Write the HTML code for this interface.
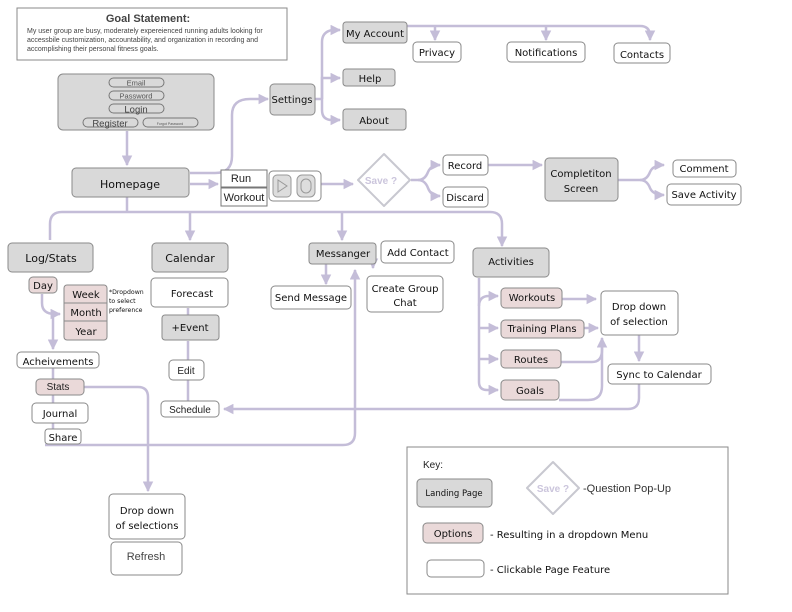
<!DOCTYPE html>
<html><head><meta charset="utf-8"><style>
html,body{margin:0;padding:0;background:#fff;}
svg{display:block;}
.d{font-family:"DejaVu Sans",sans-serif;fill:#111;}
.l{font-family:"Liberation Sans",sans-serif;fill:#222;}
.ln{fill:none;stroke:#c4bdd8;stroke-width:2.5;}
.g{fill:#d9d9d9;stroke:#8a8a8a;stroke-width:1;}
.p{fill:#ead9d9;stroke:#8a8a8a;stroke-width:1;}
.w{fill:#fff;stroke:#8a8a8a;stroke-width:1;}
</style></head><body>
<svg width="792" height="612" viewBox="0 0 792 612" xmlns="http://www.w3.org/2000/svg">
<defs>
<marker id="a" viewBox="0 0 10 10" refX="9" refY="5" markerWidth="4.2" markerHeight="4.2" orient="auto" markerUnits="strokeWidth">
<path d="M0,0 L10,5 L0,10 z" fill="#c4bdd8"/></marker>
</defs>

<!-- goal -->
<rect x="17" y="8" width="270" height="52" fill="#fff" stroke="#8a8a8a"/>
<text x="148" y="22" text-anchor="middle" class="l" font-size="11" font-weight="bold" style="fill:#444">Goal Statement:</text>
<text x="27" y="33" class="l" font-size="7" style="fill:#444">My user group are busy, moderately expereienced running adults looking for</text>
<text x="27" y="42" class="l" font-size="7" style="fill:#444">accessbile customization, accountability, and organization in recording and</text>
<text x="27" y="51" class="l" font-size="7" style="fill:#444">accomplishing their personal fitness goals.</text>

<!-- connectors -->
<g class="ln">
<path d="M127,131 V165" marker-end="url(#a)"/>
<path d="M190,173 H215 Q232,173 232,156 V115 Q232,99 250,99 H268" marker-end="url(#a)"/>
<path d="M190,184 H218" marker-end="url(#a)"/>
<path d="M315,99 H322 M322,99 V42 Q322,32 332,30 H340" marker-end="url(#a)"/>
<path d="M322,99 V78 H340" marker-end="url(#a)"/>
<path d="M322,99 V110 Q322,120 332,120 H340" marker-end="url(#a)"/>
<path d="M407,26 H640 Q650,26 650,36 V40" marker-end="url(#a)"/>
<path d="M435,26 V40" marker-end="url(#a)"/>
<path d="M546,26 V40" marker-end="url(#a)"/>
<path d="M321,184 H353" marker-end="url(#a)"/>
<path d="M411,180 H418 Q425,180 428,172 Q431,165 440,165" marker-end="url(#a)"/>
<path d="M418,180 Q425,180 428,188 Q431,196 440,196" marker-end="url(#a)"/>
<path d="M488,165 H542" marker-end="url(#a)"/>
<path d="M618,180 H640 Q647,180 650,172 Q653,165 664,165" marker-end="url(#a)"/>
<path d="M640,180 Q647,180 650,188 Q653,195 664,195" marker-end="url(#a)"/>
<path d="M127,197 V212"/>
<path d="M50,240 V224 Q50,212 62,212 H490 Q502,212 502,224 V246" marker-end="url(#a)"/>
<path d="M190,212 V240" marker-end="url(#a)"/>
<path d="M342,212 V240" marker-end="url(#a)"/>
<path d="M42,294 V303 Q42,314 55,314 H60" marker-end="url(#a)"/>
<path d="M53,314 V349" marker-end="url(#a)"/>
<path d="M188,308 V315 M188,341 V360 M188,380 V401"/>
<path d="M53,368 V379 M53,395 V403 M53,423 V429"/>
<path d="M84,387 H138 Q148,387 148,397 V491" marker-end="url(#a)"/>
<path d="M45,445 H343 Q355,445 355,433 V270" marker-end="url(#a)"/>
<path d="M326,264 V284" marker-end="url(#a)"/>
<path d="M373,262 L373,268" marker-end="url(#a)"/>
<path d="M479,278 V382 Q479,390 487,390 H498" marker-end="url(#a)"/>
<path d="M479,306 Q479,296 489,296 H498" marker-end="url(#a)"/>
<path d="M479,328 H498" marker-end="url(#a)"/>
<path d="M479,359 H498" marker-end="url(#a)"/>
<path d="M562,299 H596" marker-end="url(#a)"/>
<path d="M584,328 H598" marker-end="url(#a)"/>
<path d="M561,362 H592 Q602,362 602,350 V338" marker-end="url(#a)"/>
<path d="M559,400 H588 Q602,400 602,386 V345"/>
<path d="M639,335 V361" marker-end="url(#a)"/>
<path d="M639,384 V398 Q639,409 628,409 H224" marker-end="url(#a)"/>
</g>

<!-- login -->
<rect x="58" y="74" width="156" height="56" rx="5" class="g"/>
<g fill="none" stroke="#777">
<rect x="109" y="78" width="55" height="9" rx="4.5"/>
<rect x="109" y="91" width="55" height="9" rx="4.5"/>
<rect x="109" y="104" width="55" height="9" rx="4.5"/>
<rect x="83" y="118" width="55" height="9" rx="4.5"/>
<rect x="143" y="118" width="55" height="9" rx="4.5"/>
</g>
<text x="136" y="85.5" text-anchor="middle" class="l" font-size="7.5" style="fill:#555">Email</text>
<text x="136" y="98.5" text-anchor="middle" class="l" font-size="7.5" style="fill:#555">Password</text>
<text x="136" y="112.5" text-anchor="middle" class="l" font-size="9.5" style="fill:#444">Login</text>
<text x="110" y="126.5" text-anchor="middle" class="l" font-size="9.5" style="fill:#444">Register</text>
<text x="170" y="125" text-anchor="middle" class="l" font-size="3.5" style="fill:#555">Forgot Password</text>

<!-- gray -->
<rect x="72" y="168" width="117" height="29" rx="4" class="g"/>
<text x="130" y="188" text-anchor="middle" class="d" font-size="11">Homepage</text>
<rect x="270" y="84" width="45" height="31" rx="4" class="g"/>
<text x="292" y="103" text-anchor="middle" class="d" font-size="10">Settings</text>
<rect x="343" y="22" width="64" height="21" rx="3" class="g"/>
<text x="375" y="37" text-anchor="middle" class="d" font-size="10">My Account</text>
<rect x="343" y="69" width="52" height="17" rx="3" class="g"/>
<text x="370" y="82" text-anchor="middle" class="d" font-size="10">Help</text>
<rect x="343" y="109" width="63" height="21" rx="3" class="g"/>
<text x="374" y="124" text-anchor="middle" class="d" font-size="10">About</text>
<rect x="545" y="158" width="73" height="43" rx="4" class="g"/>
<text x="581" y="177" text-anchor="middle" class="d" font-size="10">Completiton</text>
<text x="581" y="192" text-anchor="middle" class="d" font-size="10">Screen</text>
<rect x="8" y="243" width="85" height="29" rx="4" class="g"/>
<text x="51" y="262" text-anchor="middle" class="d" font-size="11">Log/Stats</text>
<rect x="152" y="243" width="76" height="29" rx="4" class="g"/>
<text x="190" y="262" text-anchor="middle" class="d" font-size="11">Calendar</text>
<rect x="309" y="243" width="67" height="21" rx="3" class="g"/>
<text x="343" y="257" text-anchor="middle" class="d" font-size="10">Messanger</text>
<rect x="473" y="248" width="76" height="29" rx="4" class="g"/>
<text x="511" y="265" text-anchor="middle" class="d" font-size="10">Activities</text>
<rect x="162" y="315" width="57" height="25" rx="3" class="g"/>
<text x="190" y="331" text-anchor="middle" class="d" font-size="10">+Event</text>

<!-- white -->
<rect x="413" y="42" width="48" height="20" rx="4" class="w"/><text x="437" y="56" text-anchor="middle" class="d" font-size="10">Privacy</text>
<rect x="507" y="42" width="78" height="20" rx="4" class="w"/><text x="546" y="56" text-anchor="middle" class="d" font-size="10">Notifications</text>
<rect x="614" y="43" width="56" height="20" rx="4" class="w"/><text x="642" y="58" text-anchor="middle" class="d" font-size="10">Contacts</text>
<rect x="221" y="170" width="46" height="17" fill="#fff" stroke="#777"/><text x="241" y="182" text-anchor="middle" class="l" font-size="11">Run</text>
<rect x="221" y="188" width="46" height="18" fill="#fff" stroke="#777"/><text x="244" y="201" text-anchor="middle" class="l" font-size="11">Workout</text>
<rect x="269" y="171" width="52" height="30" rx="4" fill="#fff" stroke="#888"/>
<rect x="273" y="175" width="18" height="22" rx="4" fill="#ddd" stroke="#999"/>
<path d="M278,180 L287,186 L278,192 z" fill="none" stroke="#999"/>
<rect x="297" y="175" width="18" height="22" rx="5" fill="#ddd" stroke="#999"/>
<rect x="301" y="179" width="10" height="14" rx="5" fill="none" stroke="#999"/>
<path d="M384,154 L410,180 L384,206 L358,180 z" fill="#fff" stroke="#c8c8d0" stroke-width="2" stroke-linejoin="round"/>
<text x="381" y="184" text-anchor="middle" class="l" font-size="10" font-weight="bold" style="fill:#cbc5dc">Save ?</text>
<rect x="443" y="155" width="45" height="20" rx="4" class="w"/><text x="465" y="169" text-anchor="middle" class="d" font-size="10">Record</text>
<rect x="443" y="187" width="45" height="20" rx="4" class="w"/><text x="465" y="201" text-anchor="middle" class="d" font-size="10">Discard</text>
<rect x="673" y="160" width="63" height="17" rx="4" class="w"/><text x="704" y="172" text-anchor="middle" class="d" font-size="10">Comment</text>
<rect x="667" y="184" width="74" height="21" rx="4" class="w"/><text x="704" y="198" text-anchor="middle" class="d" font-size="10">Save Activity</text>
<rect x="381" y="241" width="73" height="22" rx="4" class="w"/><text x="418" y="256" text-anchor="middle" class="d" font-size="10">Add Contact</text>
<rect x="151" y="278" width="77" height="29" rx="4" class="w"/><text x="192" y="297" text-anchor="middle" class="d" font-size="10">Forecast</text>
<rect x="169" y="360" width="35" height="20" rx="4" class="w"/><text x="186" y="374" text-anchor="middle" class="l" font-size="10">Edit</text>
<rect x="161" y="401" width="58" height="16" rx="4" class="w"/><text x="190" y="413" text-anchor="middle" class="l" font-size="10">Schedule</text>
<rect x="271" y="286" width="80" height="23" rx="4" class="w"/><text x="311" y="301" text-anchor="middle" class="d" font-size="10">Send Message</text>
<rect x="367" y="276" width="76" height="36" rx="4" class="w"/><text x="405" y="292" text-anchor="middle" class="d" font-size="10">Create Group</text><text x="405" y="306" text-anchor="middle" class="d" font-size="10">Chat</text>
<rect x="17" y="352" width="82" height="16" rx="4" class="w"/><text x="58" y="365" text-anchor="middle" class="d" font-size="10">Acheivements</text>
<rect x="32" y="403" width="56" height="20" rx="4" class="w"/><text x="60" y="417" text-anchor="middle" class="d" font-size="10">Journal</text>
<rect x="45" y="429" width="36" height="15" rx="3" class="w"/><text x="63" y="441" text-anchor="middle" class="d" font-size="10">Share</text>
<rect x="601" y="291" width="77" height="44" rx="4" class="w"/><text x="639" y="310" text-anchor="middle" class="d" font-size="10">Drop down</text><text x="639" y="325" text-anchor="middle" class="d" font-size="10">of selection</text>
<rect x="608" y="364" width="103" height="20" rx="4" class="w"/><text x="659" y="378" text-anchor="middle" class="d" font-size="10">Sync to Calendar</text>
<rect x="109" y="494" width="76" height="45" rx="4" class="w"/><text x="147" y="514" text-anchor="middle" class="d" font-size="10">Drop down</text><text x="147" y="529" text-anchor="middle" class="d" font-size="10">of selections</text>
<rect x="111" y="542" width="71" height="33" rx="4" class="w"/><text x="146" y="560" text-anchor="middle" class="l" font-size="11" style="fill:#444">Refresh</text>

<!-- pink -->
<rect x="29" y="277" width="28" height="16" rx="4" class="p"/><text x="43" y="289" text-anchor="middle" class="d" font-size="10">Day</text>
<rect x="64" y="285" width="43" height="55" rx="3" class="p"/>
<path d="M64,303 H107 M64,321 H107" stroke="#8a8a8a"/>
<text x="86" y="298" text-anchor="middle" class="d" font-size="10">Week</text>
<text x="86" y="316" text-anchor="middle" class="d" font-size="10">Month</text>
<text x="86" y="335" text-anchor="middle" class="d" font-size="10">Year</text>
<text x="109" y="294" class="d" font-size="6.2">*Dropdown</text>
<text x="109" y="303" class="d" font-size="6.2">to select</text>
<text x="109" y="312" class="d" font-size="6.2">preference</text>
<rect x="36" y="379" width="48" height="16" rx="4" class="p"/><text x="58" y="390" text-anchor="middle" class="l" font-size="10">Stats</text>
<rect x="501" y="288" width="61" height="20" rx="4" class="p"/><text x="532" y="301" text-anchor="middle" class="d" font-size="10">Workouts</text>
<rect x="501" y="320" width="83" height="18" rx="4" class="p"/><text x="542" y="332" text-anchor="middle" class="d" font-size="10">Training Plans</text>
<rect x="501" y="350" width="60" height="18" rx="4" class="p"/><text x="531" y="363" text-anchor="middle" class="d" font-size="10">Routes</text>
<rect x="501" y="380" width="58" height="20" rx="4" class="p"/><text x="530" y="394" text-anchor="middle" class="d" font-size="10">Goals</text>

<!-- key -->
<rect x="407" y="447" width="321" height="147" fill="#fff" stroke="#8a8a8a"/>
<text x="423" y="468" class="l" font-size="10">Key:</text>
<rect x="417" y="479" width="75" height="28" rx="4" class="g"/><text x="454" y="496" text-anchor="middle" class="d" font-size="8.5">Landing Page</text>
<path d="M553,462 L579,488 L553,514 L527,488 z" fill="#fff" stroke="#c8c8d0" stroke-width="2" stroke-linejoin="round"/>
<text x="553" y="492" text-anchor="middle" class="l" font-size="10" font-weight="bold" style="fill:#cbc5dc">Save ?</text>
<text x="583" y="492" class="l" font-size="11" style="fill:#333">-Question Pop-Up</text>
<rect x="423" y="523" width="60" height="20" rx="4" class="p"/><text x="453" y="537" text-anchor="middle" class="d" font-size="10">Options</text>
<text x="490" y="538" class="d" font-size="10">- Resulting in a dropdown Menu</text>
<rect x="427" y="560" width="57" height="17" rx="4" class="w"/>
<text x="490" y="573" class="d" font-size="10">- Clickable Page Feature</text>
</svg>
</body></html>
